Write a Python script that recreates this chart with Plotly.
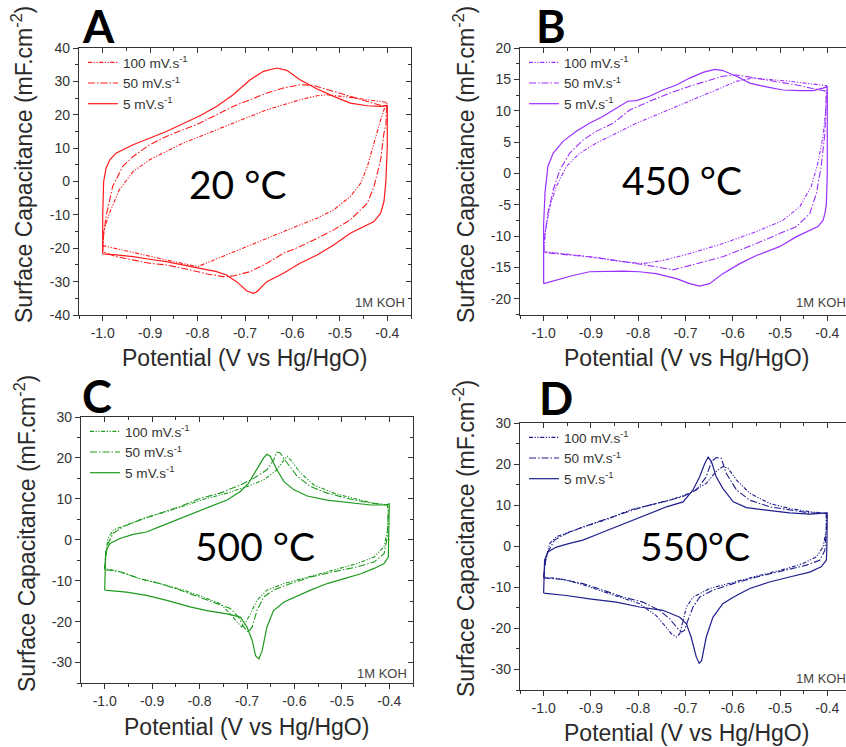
import plotly.graph_objects as go

W, H = 846, 747

# ---------------- data ----------------
scan_rates = ["100 mV.s<sup>-1</sup>", "50 mV.s<sup>-1</sup>", "5 mV.s<sup>-1</sup>"]

# Panel A : 20 °C
A_v_100 = [-1.0, -0.998, -0.986, -0.965, -0.936, -0.901, -0.866, -0.831, -0.795, -0.76, -0.725, -0.689, -0.654, -0.619, -0.584, -0.548, -0.527, -0.478, -0.442, -0.4, -0.407, -0.414, -0.428, -0.442, -0.456, -0.478, -0.513, -0.548, -0.584, -0.619, -0.654, -0.689, -0.725, -0.76, -0.8, -0.866, -0.936, -1.0]
A_c_100 = [-19.2, -15, -9.5, -2.5, 3, 6.5, 9, 11.5, 13.5, 15.5, 17.5, 19.5, 21.5, 23, 24.5, 25.7, 26, 25.2, 24.5, 23.7, 21.5, 18.5, 11.5, 4.5, -0.5, -4.5, -8.5, -11, -13, -15, -17, -19, -21, -23, -25.5, -23.5, -21.3, -19.2]
A_v_50 = [-1.0, -0.998, -0.993, -0.979, -0.958, -0.936, -0.901, -0.866, -0.831, -0.795, -0.76, -0.725, -0.689, -0.654, -0.619, -0.584, -0.556, -0.513, -0.478, -0.442, -0.407, -0.401, -0.403, -0.407, -0.414, -0.428, -0.442, -0.478, -0.513, -0.548, -0.584, -0.619, -0.654, -0.689, -0.725, -0.746, -0.78, -0.831, -0.866, -0.901, -0.936, -0.972, -1.0]
A_c_50 = [-21.0, -16, -10.5, -1.5, 4.5, 7.5, 11, 13.5, 15.5, 17.5, 20, 22.5, 24.5, 26.5, 28, 29, 28.8, 27, 25.5, 24, 22.5, 22.5, 17, 14.5, 6.5, -1.5, -6.5, -11.5, -14.5, -17, -19.5, -21.5, -24.5, -27, -28.3, -28.5, -27.7, -26, -25, -24.5, -23.5, -22.5, -21.0]
A_v_5 = [-1.0, -1.0, -0.998, -0.993, -0.985, -0.972, -0.936, -0.901, -0.866, -0.831, -0.795, -0.76, -0.725, -0.689, -0.661, -0.633, -0.612, -0.584, -0.548, -0.513, -0.478, -0.442, -0.414, -0.401, -0.4, -0.4, -0.403, -0.407, -0.414, -0.428, -0.456, -0.478, -0.513, -0.548, -0.584, -0.619, -0.654, -0.675, -0.682, -0.696, -0.718, -0.739, -0.76, -0.795, -0.831, -0.866, -0.901, -0.936, -0.972, -1.0]
A_c_5 = [-21.7, -10, 0, 4, 6.5, 8.5, 11, 13, 15, 17.3, 19.7, 22.5, 26, 30.5, 33, 34, 33.3, 30.5, 27.7, 25.5, 23.5, 22.7, 22.5, 22.8, 22.8, 10.5, 0, -6, -9.5, -12, -14, -15.5, -19, -22, -24.5, -27.5, -30, -33, -33.5, -32.8, -30, -28, -27, -26, -25, -24, -23.3, -22.5, -22, -21.7]

# Panel B : 450 °C
B_v_100 = [-1.0, -0.997, -0.987, -0.973, -0.952, -0.924, -0.889, -0.846, -0.804, -0.762, -0.719, -0.677, -0.635, -0.592, -0.557, -0.522, -0.48, -0.437, -0.402, -0.401, -0.403, -0.409, -0.42, -0.434, -0.458, -0.494, -0.55, -0.621, -0.691, -0.748, -0.79, -0.832, -0.874, -0.924, -0.973, -1.0]
B_c_100 = [-12.5, -9.6, -5.3, -2.1, 1.1, 3.2, 4.8, 6.4, 8.0, 9.3, 10.7, 12.0, 13.3, 14.7, 15.2, 15.0, 14.7, 14.3, 14.0, 13.6, 10.1, 5.9, 1.6, -2.1, -5.3, -7.5, -9.3, -11.2, -12.8, -13.9, -14.4, -14.1, -13.6, -13.1, -12.7, -12.5]
B_v_50 = [-1.0, -0.997, -0.991, -0.98, -0.966, -0.945, -0.917, -0.889, -0.853, -0.818, -0.776, -0.733, -0.691, -0.649, -0.621, -0.592, -0.55, -0.508, -0.465, -0.422, -0.402, -0.402, -0.405, -0.413, -0.423, -0.437, -0.465, -0.501, -0.55, -0.621, -0.691, -0.726, -0.762, -0.804, -0.846, -0.889, -0.938, -0.973, -1.0]
B_c_50 = [-12.6, -9.6, -6.4, -2.7, 0.5, 3.2, 5.3, 6.7, 8.0, 10.1, 11.5, 12.8, 13.9, 14.9, 15.5, 15.7, 15.2, 14.7, 14.1, 13.4, 13.1, 12.8, 6.4, 1.1, -3.2, -6.4, -8.5, -9.6, -11.2, -13.3, -14.7, -15.4, -14.9, -14.4, -13.9, -13.4, -13.1, -12.8, -12.6]
B_v_5 = [-1.0, -1.0, -0.997, -0.994, -0.991, -0.98, -0.959, -0.931, -0.903, -0.874, -0.846, -0.822, -0.804, -0.776, -0.748, -0.719, -0.691, -0.663, -0.638, -0.621, -0.592, -0.564, -0.529, -0.494, -0.458, -0.43, -0.409, -0.4, -0.4, -0.402, -0.405, -0.409, -0.42, -0.437, -0.465, -0.501, -0.55, -0.585, -0.621, -0.649, -0.67, -0.691, -0.719, -0.762, -0.797, -0.832, -0.867, -0.903, -0.938, -0.973, -1.0]
B_c_5 = [-17.6, -8, -3, -0.5, 1.1, 3.2, 5.1, 6.7, 8.0, 9.1, 10.4, 11.5, 11.6, 12.3, 13.3, 14.1, 15.2, 16.1, 16.6, 16.4, 15.5, 14.4, 13.8, 13.3, 13.2, 13.2, 13.6, 13.8, 0, -5, -6.4, -7.5, -8.5, -9.1, -10.1, -11.7, -13.1, -14.4, -16, -17.6, -18.0, -17.6, -16.8, -16, -15.7, -15.6, -15.6, -15.7, -16.3, -17.1, -17.6]

# Panel C : 500 °C
C_v_100 = [-1.0, -0.998, -0.993, -0.982, -0.954, -0.912, -0.869, -0.827, -0.785, -0.742, -0.7, -0.665, -0.637, -0.622, -0.615, -0.605, -0.587, -0.559, -0.517, -0.474, -0.432, -0.404, -0.402, -0.404, -0.411, -0.432, -0.467, -0.517, -0.573, -0.622, -0.658, -0.679, -0.693, -0.704, -0.711, -0.721, -0.735, -0.757, -0.792, -0.834, -0.884, -0.926, -0.968, -1.0]
C_c_100 = [-7.0, -3.4, 0.3, 2.4, 3.6, 5.5, 6.9, 8.5, 10.1, 11.4, 13.0, 14.6, 17.1, 19.5, 20.4, 19.1, 16.3, 13.4, 11.4, 10.1, 8.9, 8.5, 6.5, 2.4, -1.7, -4.2, -5.8, -7.4, -9.1, -10.7, -12.3, -14.8, -18.1, -20.5, -21.3, -20.1, -18.1, -15.6, -14.0, -12.3, -10.7, -9.5, -7.8, -7.0]
C_v_50 = [-1.0, -0.998, -0.993, -0.982, -0.961, -0.926, -0.884, -0.841, -0.799, -0.757, -0.714, -0.686, -0.658, -0.644, -0.637, -0.63, -0.615, -0.594, -0.566, -0.531, -0.488, -0.446, -0.404, -0.402, -0.404, -0.411, -0.432, -0.467, -0.517, -0.566, -0.608, -0.644, -0.665, -0.679, -0.689, -0.697, -0.707, -0.718, -0.735, -0.764, -0.799, -0.841, -0.884, -0.926, -0.968, -1.0]
C_c_50 = [-7.3, -4.2, -0.9, 1.6, 3.2, 4.8, 6.5, 8.1, 10.1, 11.4, 13.4, 15.0, 17.1, 19.5, 21.4, 21.2, 18.7, 15.5, 13.0, 11.4, 10.1, 9.1, 8.5, 7.3, 0.7, -3.4, -5.4, -6.6, -7.8, -9.1, -10.7, -12.3, -14.0, -17.3, -21.3, -22.6, -21.3, -18.9, -16.8, -15.6, -14.0, -12.3, -10.7, -9.5, -7.8, -7.3]
C_v_5 = [-1.0, -0.998, -0.989, -0.968, -0.94, -0.912, -0.884, -0.848, -0.813, -0.778, -0.742, -0.714, -0.697, -0.679, -0.665, -0.658, -0.651, -0.637, -0.622, -0.601, -0.573, -0.531, -0.481, -0.439, -0.404, -0.4, -0.402, -0.411, -0.432, -0.46, -0.495, -0.531, -0.566, -0.601, -0.622, -0.644, -0.658, -0.668, -0.675, -0.682, -0.689, -0.7, -0.714, -0.742, -0.785, -0.82, -0.869, -0.912, -0.954, -1.0]
C_c_5 = [-12.3, -2.9, -0.9, 0.3, 1.3, 1.9, 3.2, 4.8, 6.5, 8.1, 9.7, 11.8, 13.8, 17.1, 20.0, 20.9, 20.4, 17.1, 14.2, 12.2, 10.7, 9.7, 9.1, 8.5, 8.5, 8.9, -4.2, -5.8, -7.0, -8.3, -9.5, -10.7, -12.3, -14.0, -15.2, -17.3, -21.3, -27.1, -29.1, -28.3, -24.6, -21.3, -18.9, -18.1, -17.3, -16.4, -14.8, -13.6, -12.8, -12.3]

# Panel D : 550 °C
D_v_100 = [-1.0, -0.996, -0.987, -0.973, -0.945, -0.903, -0.86, -0.818, -0.776, -0.733, -0.691, -0.656, -0.635, -0.621, -0.61, -0.592, -0.564, -0.522, -0.48, -0.437, -0.402, -0.402, -0.409, -0.423, -0.451, -0.494, -0.55, -0.599, -0.649, -0.684, -0.698, -0.705, -0.712, -0.719, -0.73, -0.744, -0.762, -0.797, -0.839, -0.882, -0.924, -0.966, -1.0]
D_c_100 = [-7.5, -3.4, 0.7, 2.3, 3.5, 5.1, 6.8, 8.8, 10.0, 11.2, 12.9, 15.3, 18.2, 19.4, 19.0, 16.1, 12.9, 10.4, 9.2, 8.4, 8.0, 3.9, -0.2, -2.6, -4.2, -5.7, -7.3, -8.7, -10.3, -12.4, -14.8, -18.1, -21.3, -22.1, -21.3, -19.3, -16.9, -14.0, -12.4, -10.7, -9.1, -7.9, -7.5]
D_v_50 = [-1.0, -0.997, -0.991, -0.977, -0.952, -0.917, -0.874, -0.832, -0.79, -0.748, -0.705, -0.677, -0.656, -0.645, -0.635, -0.624, -0.614, -0.592, -0.564, -0.522, -0.48, -0.437, -0.402, -0.402, -0.405, -0.416, -0.444, -0.494, -0.55, -0.599, -0.642, -0.67, -0.684, -0.695, -0.702, -0.709, -0.719, -0.733, -0.755, -0.79, -0.832, -0.874, -0.917, -0.959, -1.0]
D_c_50 = [-7.7, -4.2, -1.4, 1.5, 3.1, 4.7, 6.4, 8.0, 9.6, 10.8, 12.1, 13.7, 16.9, 20.6, 21.6, 21.4, 17.8, 13.7, 11.2, 9.6, 8.8, 8.1, 8.0, 4.7, -1.0, -3.4, -4.6, -5.9, -7.5, -9.1, -10.7, -12.4, -14.8, -18.1, -20.5, -20.9, -19.7, -17.7, -15.6, -13.6, -12.4, -10.7, -9.1, -8.1, -7.7]
D_v_5 = [-1.0, -0.998, -0.991, -0.973, -0.945, -0.917, -0.882, -0.846, -0.811, -0.776, -0.74, -0.705, -0.684, -0.67, -0.659, -0.652, -0.645, -0.635, -0.621, -0.599, -0.571, -0.529, -0.48, -0.437, -0.4, -0.401, -0.402, -0.413, -0.437, -0.48, -0.522, -0.564, -0.599, -0.621, -0.642, -0.656, -0.666, -0.671, -0.677, -0.688, -0.698, -0.712, -0.748, -0.797, -0.846, -0.903, -0.952, -1.0]
D_c_5 = [-11.4, -3.4, -1.4, -0.2, 0.7, 1.5, 3.1, 4.7, 6.4, 8.0, 9.6, 10.8, 13.7, 16.9, 20.2, 21.7, 20.6, 16.9, 14.1, 10.8, 9.4, 8.8, 8.1, 7.8, 8.1, -1.0, -3.4, -5.0, -6.3, -7.5, -8.7, -10.3, -12.4, -14.0, -17.3, -22.1, -27.9, -28.5, -27.0, -22.1, -18.9, -17.3, -15.6, -14.8, -13.6, -12.8, -12.0, -11.4]

# tick labels
x_tickvals = [-1.0, -0.9, -0.8, -0.7, -0.6, -0.5, -0.4]
x_ticktext = ["-1.0", "-0.9", "-0.8", "-0.7", "-0.6", "-0.5", "-0.4"]
yA_ticks = [-40, -30, -20, -10, 0, 10, 20, 30, 40]
yB_ticks = [-20, -15, -10, -5, 0, 5, 10, 15, 20]
yCD_ticks = [-30, -20, -10, 0, 10, 20, 30]

temps = ["20 °C", "450 °C", "500 °C", "550°C"]
letters = ["A", "B", "C", "D"]
colors = ["#FF1A1A", "#9B30FF", "#1E9A1E", "#1E1E8C"]

# ---------------- layout geometry (pixels) ----------------
FONT = "Liberation Sans, Arial, sans-serif"
AX = "#333333"


def fx(px):
    return px / W


def fy(py):
    return 1 - py / H


panels = [
    dict(v=[A_v_100, A_v_50, A_v_5], c=[A_c_100, A_c_50, A_c_5], box=(79, 411, 48, 315),
         xr=[-1.05, -0.35], yr=[-40, 40], yt=yA_ticks, ydt=5, right=True,
         letter=(98, 26), temp=(237, 184), koh=(353, 303), leg=(83, 47),
         xt=(245, 358), yti=(22, 165)),
    dict(v=[B_v_100, B_v_50, B_v_5], c=[B_c_100, B_c_50, B_c_5], box=(520, 846, 48, 315),
         xr=[-1.05, -0.3604], yr=[-22.6, 20], yt=yB_ticks, ydt=2.5, right=False,
         letter=(551, 26), temp=(682, 180), koh=(794, 303), leg=(524, 47),
         xt=(686, 358), yti=(464, 165)),
    dict(v=[C_v_100, C_v_50, C_v_5], c=[C_c_100, C_c_50, C_c_5], box=(81, 413, 417, 683),
         xr=[-1.05, -0.35], yr=[-35, 30], yt=yCD_ticks, ydt=5, right=True,
         letter=(97, 396), temp=(255, 546), koh=(355, 673), leg=(85, 416),
         xt=(247, 727), yti=(25, 534)),
    dict(v=[D_v_100, D_v_50, D_v_5], c=[D_c_100, D_c_50, D_c_5], box=(520, 846, 423, 690),
         xr=[-1.05, -0.3604], yr=[-35, 30], yt=yCD_ticks, ydt=5, right=False,
         letter=(556, 398), temp=(695, 546), koh=(794, 678), leg=(524, 422),
         xt=(686, 733), yti=(464, 539)),
]

dashes = ["4px,1.6px,1.2px,1.6px,1.2px,1.6px", "7px,2px,1.5px,2px", "solid"]
widths = [1.1, 1.1, 1.2]

fig = go.Figure()
layout = dict(width=W, height=H, margin=dict(l=0, r=0, t=0, b=0, autoexpand=False),
              paper_bgcolor="white", plot_bgcolor="white", showlegend=True)
annotations = []

for i, p in enumerate(panels):
    n = i + 1
    xs = "" if n == 1 else str(n)
    xa, ya = "x" + xs, "y" + xs
    xtop = "x" + str(n + 4)
    yright = "y" + str(n + 4)
    legname = "legend" if n == 1 else "legend" + str(n)
    l, r, t, b = p["box"]

    for k in range(3):
        fig.add_trace(go.Scatter(
            x=p["v"][k], y=p["c"][k], mode="lines", name=scan_rates[k],
            line=dict(color=colors[i], width=widths[k], dash=dashes[k]),
            xaxis=xa, yaxis=ya, legend=legname, hoverinfo="skip"))

    # empty trace to activate the mirrored (inside-tick) axes
    fig.add_trace(go.Scatter(x=[], y=[], xaxis=xtop, yaxis=yright if p["right"] else ya,
                             showlegend=False, hoverinfo="skip"))

    xminor = [v + 0.05 for v in [-1.1] + x_tickvals]
    ymin = p["yt"]
    yminor = [v - p["ydt"] for v in ymin] + [ymin[-1] + p["ydt"]]

    base_x = dict(domain=[fx(l), fx(r)], range=p["xr"], showgrid=False, zeroline=False,
                  showline=True, linecolor=AX, linewidth=1.3)
    base_y = dict(domain=[fy(b), fy(t)], range=p["yr"], showgrid=False, zeroline=False,
                  showline=True, linecolor=AX, linewidth=1.3)

    layout["xaxis" + xs] = dict(base_x, anchor=ya, tickmode="array", tickvals=x_tickvals,
                                ticktext=x_ticktext, ticks="outside", ticklen=5, tickwidth=1.2,
                                tickcolor=AX, tickfont=dict(family=FONT, size=14, color=AX),
                                minor=dict(tickmode="array", tickvals=xminor, ticks="outside",
                                           ticklen=3, tickwidth=1, tickcolor=AX))
    layout["yaxis" + xs] = dict(base_y, anchor=xa, tickmode="array", tickvals=p["yt"],
                                ticktext=[str(v) for v in p["yt"]], ticks="outside", ticklen=5,
                                tickwidth=1.2, tickcolor=AX,
                                tickfont=dict(family=FONT, size=14, color=AX),
                                minor=dict(tickmode="array", tickvals=yminor, ticks="outside",
                                           ticklen=3, tickwidth=1, tickcolor=AX))
    layout["xaxis" + str(n + 4)] = dict(base_x, overlaying=xa, side="top",
                                        anchor=yright if p["right"] else ya,
                                        tickmode="array", tickvals=x_tickvals, showticklabels=False,
                                        ticks="inside", ticklen=5, tickwidth=1.2, tickcolor=AX,
                                        minor=dict(tickmode="array", tickvals=xminor, ticks="inside",
                                                   ticklen=3, tickwidth=1, tickcolor=AX))
    if p["right"]:
        layout["yaxis" + str(n + 4)] = dict(base_y, overlaying=ya, side="right", anchor=xtop,
                                            tickmode="array", tickvals=p["yt"], showticklabels=False,
                                            ticks="inside", ticklen=5, tickwidth=1.2, tickcolor=AX,
                                            minor=dict(tickmode="array", tickvals=yminor,
                                                       ticks="inside", ticklen=3, tickwidth=1,
                                                       tickcolor=AX))

    layout[legname] = dict(x=fx(p["leg"][0]), y=fy(p["leg"][1]), xanchor="left", yanchor="top",
                           bgcolor="rgba(0,0,0,0)", borderwidth=0, tracegroupgap=0,
                           itemwidth=30, font=dict(family=FONT, size=13.6, color=AX))

    annotations += [
        dict(text="<b>%s</b>" % letters[i], x=fx(p["letter"][0]), y=fy(p["letter"][1]),
             xref="paper", yref="paper", showarrow=False, xanchor="center", yanchor="middle",
             font=dict(family="Lato, Open Sans, sans-serif", size=45, color="black")),
        dict(text=temps[i], x=fx(p["temp"][0]), y=fy(p["temp"][1]), xref="paper", yref="paper",
             showarrow=False, xanchor="center", yanchor="middle",
             font=dict(family="Lato, Open Sans, sans-serif", size=39, color="black")),
        dict(text="1M KOH", x=fx(p["koh"][0]), y=fy(p["koh"][1]), xref="paper", yref="paper",
             showarrow=False, xanchor="left", yanchor="middle",
             font=dict(family=FONT, size=13, color="#444444")),
        dict(text="Potential (V vs Hg/HgO)", x=fx(p["xt"][0]), y=fy(p["xt"][1]), xref="paper",
             yref="paper", showarrow=False, xanchor="center", yanchor="middle",
             font=dict(family=FONT, size=23, color="#2a2a2a")),
        dict(text="Surface Capacitance (mF.cm<sup>-2</sup>)", x=fx(p["yti"][0]), y=fy(p["yti"][1]),
             xref="paper", yref="paper", showarrow=False, xanchor="center", yanchor="middle",
             textangle=-90, font=dict(family=FONT, size=23, color="#2a2a2a")),
    ]

layout["annotations"] = annotations
fig.update_layout(**layout)
fig.write_html("out.html", config={"displayModeBar": False},
               post_script="document.body.style.margin='0px';document.body.style.overflow='hidden';")
